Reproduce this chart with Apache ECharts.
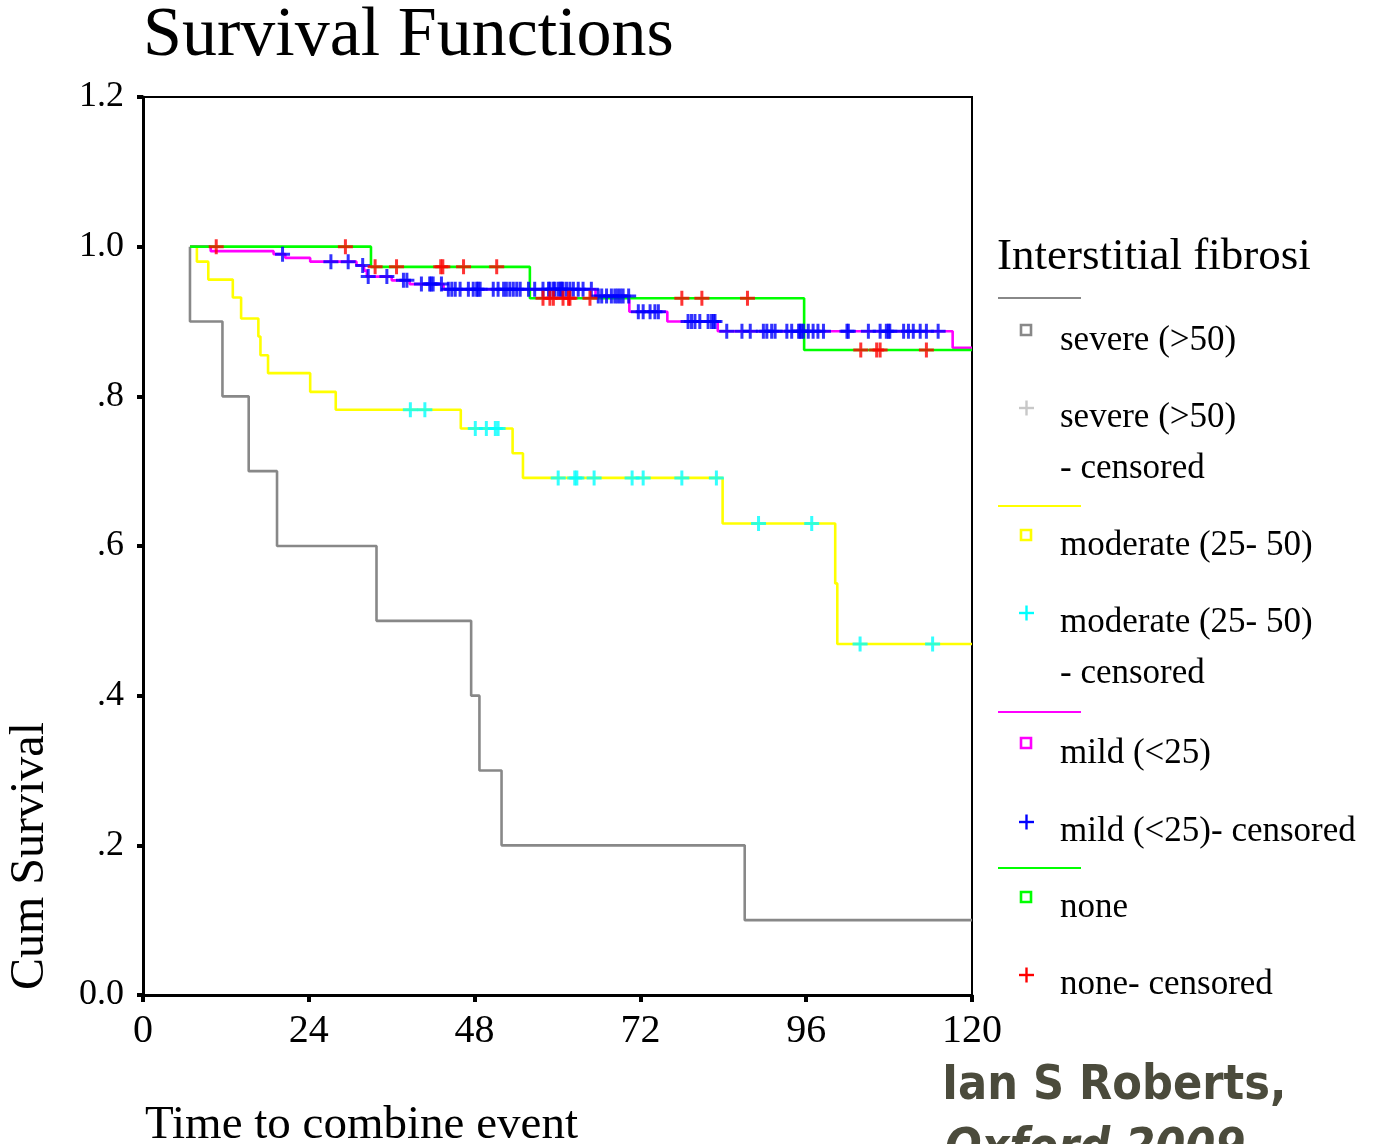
<!DOCTYPE html>
<html><head><meta charset="utf-8">
<script src="https://cdn.jsdelivr.net/npm/echarts@6/dist/echarts.min.js"></script>
<style>html,body{margin:0;padding:0;background:#fff}#c{width:1400px;height:1144px}</style>
</head><body><div id="c"></div>
<script>
// ---------- data ----------
const startTime = 6.8;
const endTime = 120;
const xTicks = [0, 24, 48, 72, 96, 120];
const yTickLabels = ['0.0', '.2', '.4', '.6', '.8', '1.0', '1.2'];

const severeTimes = [6.8, 11.5, 15.3, 19.4, 33.8, 47.5, 48.7, 51.9, 87.1];
const severeSurv  = [0.9, 0.8, 0.7, 0.6, 0.5, 0.4, 0.3, 0.2, 0.1];
const severeCensored = [];

const moderateTimes = [7.8, 9.45, 13.0, 14.2, 16.7, 17.0, 18.1, 24.2, 27.9, 46.0, 53.5, 55.0, 83.9, 100.2, 100.5];
const moderateSurv  = [0.980, 0.956, 0.932, 0.904, 0.880, 0.855, 0.831, 0.806, 0.782, 0.757, 0.724, 0.691, 0.630, 0.550, 0.469];
const moderateCensored = [38.7, 40.8, 48.1, 49.7, 51.0, 51.4, 60.1, 62.5, 62.8, 65.3, 70.8, 72.4, 78.0, 83.0, 89.1, 96.8, 103.8, 114.3];

const mildTimes = [9.8, 18.9, 20.6, 24.2, 30.9, 32.0, 32.4, 36.0, 38.6, 43.5, 65.5, 70.4, 75.9, 83.2, 117.2];
const mildSurv  = [0.994, 0.990, 0.985, 0.980, 0.975, 0.968, 0.960, 0.955, 0.950, 0.943, 0.934, 0.913, 0.900, 0.887, 0.865];
const mildCensored = [20.2, 27.2, 29.7, 31.8, 32.6, 35.3, 37.7, 38.2, 40.3, 41.5, 41.7, 42.0, 43.2, 44.2, 44.7, 45.2, 45.9, 47.1, 47.8, 48.3, 48.5, 48.8,
  50.7, 51.4, 52.2, 52.6, 53.1, 53.6, 54.1, 54.6, 55.8, 56.7, 57.9, 58.7, 58.9, 59.4, 59.6, 60.1, 60.4, 60.6, 60.8, 61.3, 61.8, 62.3, 63.0, 63.7, 64.9,
  65.9, 66.4, 67.1, 67.8, 68.3, 68.7, 69.1, 69.5, 70.3, 71.7, 72.4, 73.4, 74.1, 74.6, 78.9, 79.4, 79.9, 80.6, 81.8, 82.3, 82.6, 82.8,
  84.5, 86.7, 87.9, 89.8, 90.3, 91.0, 91.5, 93.2, 93.9, 94.9, 95.1, 95.3, 95.6, 96.3, 97.0, 97.7, 98.5, 101.9, 102.1, 105.0, 106.7,
  107.6, 107.9, 108.1, 110.1, 110.8, 111.5, 112.5, 113.4, 115.1];

const noneTimes = [33.0, 56.0, 95.7];
const noneSurv  = [0.973, 0.931, 0.862];
const noneCensored = [10.6, 29.3, 33.6, 36.7, 43.1, 43.4, 46.4, 51.2, 57.9, 58.9, 59.4, 60.8, 61.6, 61.8, 64.7, 78.0, 80.9, 87.5, 103.9, 106.2, 106.7, 113.4];

const titleText = 'Survival Functions';
const yName = 'Cum Survival';
const xName = 'Time to combine event';
const legendTitle = 'Interstitial fibrosi';
const legendLabels = [
  ['severe (>50)'], ['severe (>50)', '- censored'],
  ['moderate (25- 50)'], ['moderate (25- 50)', '- censored'],
  ['mild (<25)'], ['mild (<25)- censored'],
  ['none'], ['none- censored']
];
const creditLines = ['Ian S Roberts,', 'Oxford 2009'];

// ---------- helpers ----------
function curve(times, surv) {
  const d = [[startTime, 1]];
  times.forEach((t, i) => d.push([t, surv[i]]));
  d.push([endTime, surv[surv.length - 1]]);
  return d;
}
function survAt(times, surv, t) {
  let v = 1;
  for (let i = 0; i < times.length; i++) if (times[i] <= t) v = surv[i];
  return v;
}
function cens(times, surv, ct) { return ct.map(t => [t, survAt(times, surv, t)]); }

const plusPath = 'path://M6,0h3v6h6v3h-6v6h-3v-6h-6v-3h6z';
const C = {severe: '#888888', severeC: '#c8c8c8', moderate: '#ffff00', moderateC: '#00ffff',
           mild: '#ff00ff', mildC: '#0000ff', none: '#00ff00', noneC: '#ff0000'};

function lineSeries(name, data, color) {
  return {name, type: 'line', step: 'end', data, showSymbol: false, symbol: 'none',
    lineStyle: {color, width: 2.6}, itemStyle: {color}, silent: true, z: 2};
}
function censSeries(name, data, color) {
  return {name, type: 'scatter', data, symbol: plusPath, symbolSize: 15,
    itemStyle: {color}, silent: true, z: 3};
}

// ---------- legend graphic ----------
const serif = '"Liberation Serif", "Times New Roman", serif';
const groups = [
  {line: C.severe, sq: C.severe, plus: C.severeC, lineY: 298, sqY: 330, plusY: 408},
  {line: C.moderate, sq: C.moderate, plus: C.moderateC, lineY: 506, sqY: 535, plusY: 613},
  {line: C.mild, sq: C.mild, plus: C.mildC, lineY: 712, sqY: 743, plusY: 822},
  {line: C.none, sq: C.none, plus: C.noneC, lineY: 868, sqY: 897, plusY: 975}
];
const graphic = [];
graphic.push({type: 'text', x: 997, y: 257,
  style: {text: legendTitle, font: '45px ' + serif, fill: '#000', textAlign: 'left', textVerticalAlign: 'middle'}});
groups.forEach((g, gi) => {
  graphic.push({type: 'line', shape: {x1: 998, y1: g.lineY, x2: 1081, y2: g.lineY}, style: {stroke: g.line, lineWidth: 2.2}});
  graphic.push({type: 'rect', shape: {x: 1021, y: g.sqY - 5, width: 10, height: 10}, style: {fill: '#fff', stroke: g.sq, lineWidth: 2.6}});
  graphic.push({type: 'rect', shape: {x: 1019, y: g.plusY - 1.2, width: 15, height: 2.4}, style: {fill: g.plus}});
  graphic.push({type: 'rect', shape: {x: 1025.3, y: g.plusY - 7.5, width: 2.4, height: 15}, style: {fill: g.plus}});
  const sqLab = legendLabels[gi * 2], plLab = legendLabels[gi * 2 + 1];
  sqLab.forEach((s, k) => graphic.push({type: 'text', x: 1060, y: g.sqY + 11 + k * 51,
    style: {text: s, font: '35px ' + serif, fill: '#000', textAlign: 'left', textVerticalAlign: 'middle'}}));
  plLab.forEach((s, k) => graphic.push({type: 'text', x: 1060, y: g.plusY + 10 + k * 51,
    style: {text: s, font: '35px ' + serif, fill: '#000', textAlign: 'left', textVerticalAlign: 'middle'}}));
});
// axis names & credit
graphic.push({type: 'text', x: 30, y: 856, rotation: Math.PI / 2,
  style: {text: yName, font: '48px ' + serif, fill: '#000', textAlign: 'center', textVerticalAlign: 'middle'}});
graphic.push({type: 'text', x: 145, y: 1126,
  style: {text: xName, font: '47px ' + serif, fill: '#000', textAlign: 'left', textVerticalAlign: 'middle'}});
graphic.push({type: 'text', x: 942, y: 1087,
  style: {text: creditLines[0], font: 'bold 48px "DejaVu Sans Condensed", "DejaVu Sans", sans-serif', fill: '#4b4b3c', textAlign: 'left', textVerticalAlign: 'middle'}});
graphic.push({type: 'text', x: 945, y: 1150,
  style: {text: creditLines[1], font: 'italic bold 48px "DejaVu Sans Condensed", "DejaVu Sans", sans-serif', fill: '#4b4b3c', textAlign: 'left', textVerticalAlign: 'middle'}});

// ---------- chart ----------
const chart = echarts.init(document.getElementById('c'), null, {renderer: 'canvas'});
chart.setOption({
  animation: false,
  backgroundColor: '#fff',
  title: {text: titleText, left: 143, top: 2, padding: 0,
    textStyle: {fontFamily: serif, fontSize: 70, fontWeight: 'normal', color: '#000'}},
  grid: {left: 143, top: 97, width: 829, height: 898, show: true, borderColor: '#000', borderWidth: 2, containLabel: false},
  xAxis: {type: 'value', min: xTicks[0], max: xTicks[xTicks.length - 1], interval: xTicks[1] - xTicks[0],
    axisLine: {show: true, onZero: false, lineStyle: {color: '#000', width: 3}},
    axisTick: {show: true, length: 7, lineStyle: {color: '#000', width: 4}},
    axisLabel: {margin: 16, color: '#000', fontFamily: serif, fontSize: 40},
    splitLine: {show: false}},
  yAxis: {type: 'value', min: 0, max: 1.2, interval: 0.2,
    axisLine: {show: true, onZero: false, lineStyle: {color: '#000', width: 3}},
    axisTick: {show: true, length: 6, lineStyle: {color: '#000', width: 4}},
    axisLabel: {margin: 19, color: '#000', fontFamily: serif, fontSize: 36,
      formatter: v => yTickLabels[Math.round(v / 0.2)]},
    splitLine: {show: false}},
  graphic: graphic,
  series: [
    lineSeries('severe (>50)', curve(severeTimes, severeSurv), C.severe),
    lineSeries('moderate (25- 50)', curve(moderateTimes, moderateSurv), C.moderate),
    lineSeries('mild (<25)', curve(mildTimes, mildSurv), C.mild),
    lineSeries('none', curve(noneTimes, noneSurv), C.none),
    censSeries('severe (>50) - censored', cens(severeTimes, severeSurv, severeCensored), C.severeC),
    censSeries('moderate (25- 50) - censored', cens(moderateTimes, moderateSurv, moderateCensored), C.moderateC),
    censSeries('mild (<25)- censored', cens(mildTimes, mildSurv, mildCensored), C.mildC),
    censSeries('none- censored', cens(noneTimes, noneSurv, noneCensored), C.noneC)
  ]
});
</script></body></html>
